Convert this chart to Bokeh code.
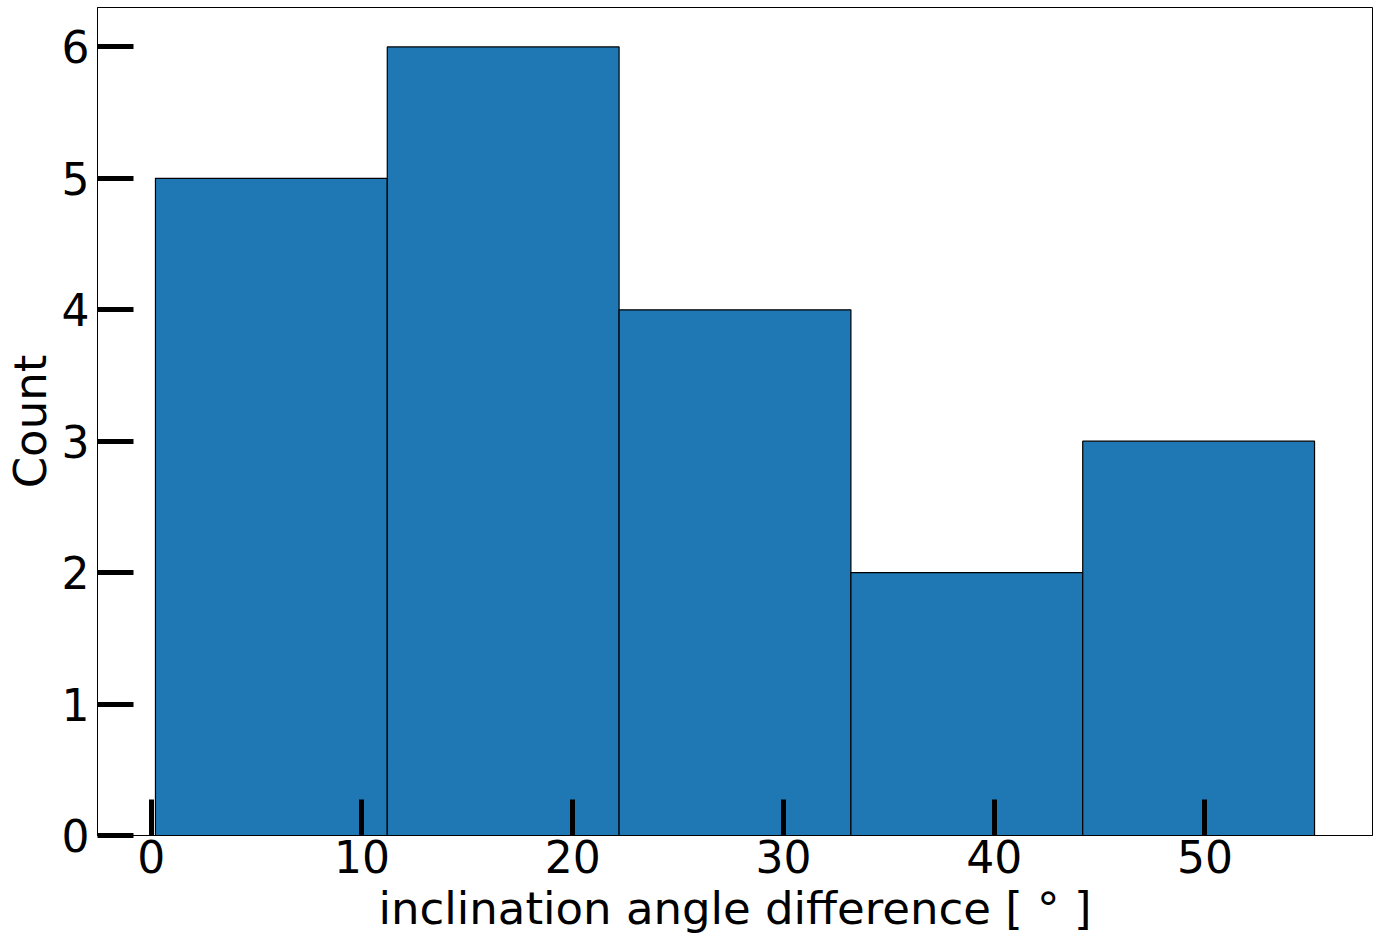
from bokeh.plotting import figure
from bokeh.models import ColumnDataSource, Range1d, FixedTicker
from bokeh.embed import file_html
from bokeh.resources import INLINE

bin_left = [0.2, 11.2, 22.2, 33.2, 44.2]
bin_right = [11.2, 22.2, 33.2, 44.2, 55.2]
counts = [5, 6, 4, 2, 3]
x_ticks = [0, 10, 20, 30, 40, 50]
y_ticks = [0, 1, 2, 3, 4, 5, 6]

src = ColumnDataSource(dict(left=bin_left, right=bin_right, top=counts, bottom=[0] * len(counts)))

p = figure(width=1377, height=940, output_backend="svg", toolbar_location=None,
           x_range=Range1d(-2.55, 57.95), y_range=Range1d(0, 6.3),
           min_border_left=96, min_border_right=5, min_border_top=7, min_border_bottom=105)

p.quad(left="left", right="right", top="top", bottom="bottom", source=src,
       fill_color="#1f77b4", line_color="black", line_width=1.2)

p.grid.visible = False
p.outline_line_color = "black"
p.outline_line_width = 1

p.xaxis.ticker = FixedTicker(ticks=x_ticks)
p.yaxis.ticker = FixedTicker(ticks=y_ticks)
p.xaxis.axis_label = "inclination angle difference [ ° ]"
p.yaxis.axis_label = "Count"

for ax in (p.xaxis, p.yaxis):
    ax.major_tick_in = 36
    ax.major_tick_out = 0
    ax.major_tick_line_width = 5
    ax.major_tick_line_color = "black"
    ax.minor_tick_line_color = None
    ax.axis_line_color = "black"
    ax.axis_line_width = 1
    ax.major_label_text_font = "DejaVu Sans"
    ax.major_label_text_font_size = "44px"
    ax.major_label_text_color = "black"
    ax.axis_label_text_font = "DejaVu Sans"
    ax.axis_label_text_font_size = "45px"
    ax.axis_label_text_font_style = "normal"
    ax.axis_label_text_color = "black"

p.yaxis.major_label_standoff = 8
p.yaxis.axis_label_standoff = 2
p.xaxis.major_label_standoff = 4
p.xaxis.axis_label_standoff = 6

open("out.html", "w").write(file_html(p, INLINE))
